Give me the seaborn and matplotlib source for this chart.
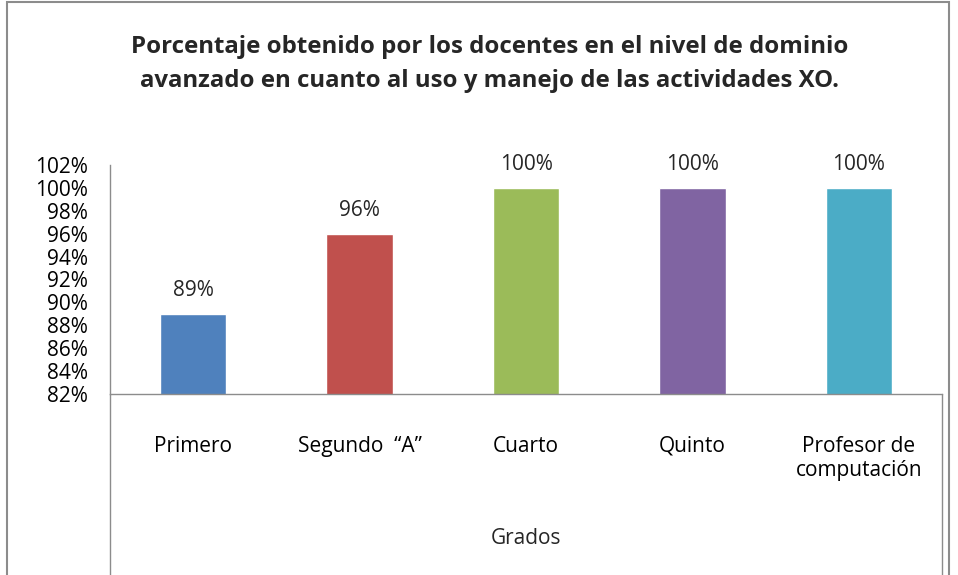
import matplotlib
matplotlib.use("Agg")
import matplotlib.pyplot as plt
import seaborn as sns
import pandas as pd
from matplotlib.lines import Line2D
from matplotlib.patches import Rectangle

# data
grados = ["Primero", "Segundo  \u201cA\u201d", "Cuarto", "Quinto", "Profesor de\ncomputaci\u00f3n"]
porcentaje = [89, 96, 100, 100, 100]
colores = ["#4F81BD", "#C0504D", "#9BBB59", "#8064A2", "#4BACC6"]
y_ticks = list(range(82, 103, 2))

titulo = ("Porcentaje obtenido por los docentes en el nivel de dominio\n"
          "avanzado en cuanto al uso y manejo de las actividades XO.")

df = pd.DataFrame({"Grados": grados, "Porcentaje": porcentaje})

sns.set_theme(style="white")
plt.rcParams["font.family"] = ["Open Sans", "DejaVu Sans"]

fig = plt.figure(figsize=(9.58, 5.75), dpi=100)
ax = fig.add_axes([110 / 958, 1 - 394 / 575, 832 / 958, 229 / 575])

sns.barplot(data=df, x="Grados", y="Porcentaje", hue="Grados", palette=colores,
            width=0.4, legend=False, ax=ax, saturation=1)

ax.set_ylim(82, 102)
ax.set_yticks(y_ticks)
ax.set_yticklabels([f"{v}%" for v in y_ticks])
ax.tick_params(axis="both", length=0, labelsize=15, colors="black")
ax.tick_params(axis="y", pad=16)
ax.tick_params(axis="x", pad=30)
ax.set_ylabel("")
ax.set_xlabel("Grados", fontsize=15, labelpad=34)

for s in ["top", "right"]:
    ax.spines[s].set_visible(False)
for s in ["left", "bottom"]:
    ax.spines[s].set_color("#8c8c8c")
    ax.spines[s].set_linewidth(1)

# value labels on top of bars
for cont in ax.containers:
    ax.bar_label(cont, labels=[f"{v:.0f}%" for v in cont.datavalues],
                 padding=9, fontsize=15)

# the chart frame and the boxed category area below the plot
fig.add_artist(Rectangle((7 / 958, -0.05), 942 / 958, 1.05 - 2 / 575,
                         transform=fig.transFigure, fill=False,
                         edgecolor="#8c8c8c", linewidth=1.5))
fig.add_artist(Line2D([110 / 958, 110 / 958], [0, 1 - 394 / 575],
                      transform=fig.transFigure, color="#8c8c8c", linewidth=1))
fig.add_artist(Line2D([942 / 958, 942 / 958], [0, 1 - 394 / 575],
                      transform=fig.transFigure, color="#8c8c8c", linewidth=1))

fig.text(490 / 958, 1 - 64 / 575, titulo, ha="center", va="center",
         fontsize=17.3, fontweight="bold", linespacing=1.6)

fig.savefig("out.png", dpi=100)
